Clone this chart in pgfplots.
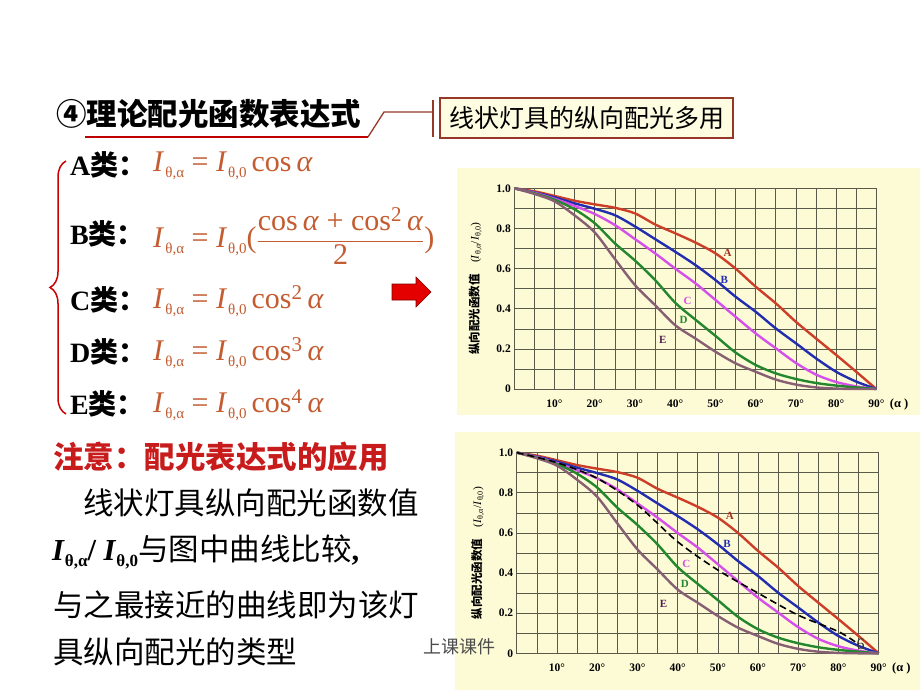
\documentclass[border=0pt]{standalone}
\usepackage{fontspec}
\setmainfont{Liberation Serif}
\newfontfamily\cjk{Noto Sans CJK SC}
\usepackage{pgfplots}
\usepackage{pgfplotstable}
\pgfplotsset{compat=1.18}
\usetikzlibrary{decorations.pathreplacing,calc}

\definecolor{chartbg}{RGB}{253,251,214}
\definecolor{gridc}{RGB}{90,90,75}
\definecolor{cA}{RGB}{205,62,40}
\definecolor{cB}{RGB}{35,45,175}
\definecolor{cC}{RGB}{212,80,232}
\definecolor{cD}{RGB}{35,135,45}
\definecolor{cE}{RGB}{135,95,115}
\definecolor{lA}{RGB}{165,45,30}
\definecolor{lE}{RGB}{85,30,80}
\definecolor{fc}{RGB}{195,92,48}
\definecolor{linkc}{RGB}{150,55,40}
\definecolor{boxf}{RGB}{255,253,225}
\definecolor{warn}{RGB}{200,28,28}

\newcommand{\fs}[1]{\fontsize{#1}{#1}\selectfont}
\newcommand{\Isub}[1]{\textit{I}\kern1pt\raisebox{-0.45ex}{\fs{15}#1}}

% angle in degrees, relative luminous intensity I(theta,alpha)/I(theta,0)
\pgfplotstableread{
deg A     B     C     D     E
0   1.000 1.000 1.000 1.000 1.000
5   0.985 0.980 0.978 0.975 0.972
10  0.962 0.955 0.948 0.943 0.935
15  0.938 0.925 0.912 0.895 0.865
20  0.920 0.898 0.872 0.826 0.780
25  0.903 0.866 0.817 0.726 0.648
30  0.875 0.810 0.747 0.640 0.518
35  0.820 0.747 0.676 0.543 0.418
40  0.776 0.684 0.600 0.430 0.318
45  0.730 0.618 0.527 0.346 0.252
50  0.676 0.543 0.444 0.265 0.186
55  0.600 0.460 0.360 0.182 0.128
60  0.510 0.385 0.277 0.120 0.086
65  0.427 0.302 0.203 0.078 0.047
70  0.335 0.228 0.130 0.050 0.022
75  0.252 0.153 0.072 0.030 0.008
80  0.170 0.086 0.035 0.017 0.002
85  0.086 0.037 0.013 0.008 0.000
90  0.000 0.000 0.000 0.000 0.000
}\curves

% measured lamp (dashed curve, lower chart)
\pgfplotstableread{
deg val
0   1.000
10  0.950
20  0.872
30  0.739
40  0.556
50  0.415
60  0.300
70  0.190
80  0.108
85  0.045
}\measured

\pgfplotsset{
  lamp/.style={
    scale only axis, width=362pt, height=200.7pt,
    xmin=0, xmax=90, ymin=0, ymax=1,
    xtick={0,10,...,90},
    xticklabels={,10°,20°,30°,40°,50°,60°,70°,80°,90°},
    minor x tick num=1,
    ytick={0,0.2,0.4,0.6,0.8,1},
    yticklabels={0,0.2,0.4,0.6,0.8,1.0},
    minor y tick num=1,
    grid=both,
    major grid style={draw=gridc,line width=0.55pt},
    minor grid style={draw=gridc,line width=0.55pt},
    axis line style={draw=gridc,line width=0.7pt},
    major tick length=0pt, minor tick length=0pt,
    tick label style={font={\fs{11.5}\bfseries}},
    xticklabel style={yshift=-7pt},
    clip=false,
    every axis plot/.append style={line width=2.4pt, smooth, no markers},
  },
}
\tikzset{curvelabel/.style={font={\fs{11}\bfseries}}}

\begin{document}
\begin{tikzpicture}[x=1pt,y=1pt]
\useasboundingbox (0,0) rectangle (920,-690);
\fill[white] (0,0) rectangle (920,-690);

% chart backgrounds
\fill[chartbg] (457,-168) rectangle (920,-415);
\fill[chartbg] (455,-432) rectangle (920,-690);

% title and link to the note box
\node[anchor=west, inner sep=0, font={\cjk\bfseries\fs{30.5}}] at (56,-114) {④理论配光函数表达式};
\draw[red!75!black, line width=2pt] (85,-137) -- (368,-137);
\draw[linkc, line width=1.3pt] (368,-137) -- (384,-112) -- (433,-112);
\draw[linkc, line width=1.6pt] (433,-100) -- (433,-137);
\node[draw=linkc, line width=1.5pt, fill=boxf, inner sep=0, minimum width=293pt, minimum height=40pt,
      font={\cjk\fs{25}}] at (586.5,-118) {线状灯具的纵向配光多用};

% brace and the five types
\draw[red!80!black, line width=1.5pt, decorate, decoration={brace, amplitude=16pt}] (66,-414) -- (66,-161);
\foreach \lab/\yy in {A/165, B/234, C/300, D/352, E/404} {
  \node[anchor=west, inner sep=0] at (70,-\yy) {\fs{28}\textbf{\lab}{\cjk\bfseries 类：}};
}
\begin{scope}[every node/.style={anchor=west, inner sep=0, text=fc, font=\fs{30}}]
\node at (153,-166) {\Isub{θ,α} = \Isub{θ,0}\,cos\,\textit{α}};
\node at (153,-236) {\Isub{θ,α} = \Isub{θ,0}($\displaystyle\frac{\mbox{cos\,\textit{α} + cos\textsuperscript{2}\,\textit{α}}}{\mbox{2}}$)};
\node at (153,-301) {\Isub{θ,α} = \Isub{θ,0}\,cos\textsuperscript{2}\,\textit{α}};
\node at (153,-353) {\Isub{θ,α} = \Isub{θ,0}\,cos\textsuperscript{3}\,\textit{α}};
\node at (153,-405) {\Isub{θ,α} = \Isub{θ,0}\,cos\textsuperscript{4}\,\textit{α}};
\end{scope}

% red arrow
\fill[red!90!black, draw=red!50!black, line width=0.6pt]
  (392,-284) -- (416,-284) -- (416,-277) -- (431,-292) -- (416,-307) -- (416,-300) -- (392,-300) -- cycle;

% note text
\node[anchor=west, inner sep=0, text=warn, font={\cjk\bfseries\fs{30.5}}] at (53,-457) {注意：配光表达式的应用};
\node[anchor=west, inner sep=0, font={\cjk\fs{30.5}}] at (83,-503) {线状灯具纵向配光函数值};
\node[anchor=west, inner sep=0, font=\fs{30.5}] at (52,-552)
  {\textbf{\textit{I}\raisebox{-0.45ex}{\fs{17}θ,α}/ \textit{I}\raisebox{-0.45ex}{\fs{17}θ,0}}{\cjk 与图中曲线比较}\textbf{,}};
\node[anchor=west, inner sep=0, font={\cjk\fs{30.5}}] at (53,-605) {与之最接近的曲线即为该灯};
\node[anchor=west, inner sep=0, font={\cjk\fs{30.5}}] at (53,-652) {具纵向配光的类型};
\node[anchor=west, inner sep=0, text=black!70, font={\cjk\fs{18}}] at (423,-647) {上课课件};

% upper chart
\begin{axis}[lamp, at={(514.3pt,-389pt)}, anchor=south west]
\addplot[cA] table[x=deg,y=A]{\curves};
\addplot[cB] table[x=deg,y=B]{\curves};
\addplot[cC] table[x=deg,y=C]{\curves};
\addplot[cD] table[x=deg,y=D]{\curves};
\addplot[cE] table[x=deg,y=E]{\curves};
\node[curvelabel, text=lA] at (axis cs:53,0.68) {A};
\node[curvelabel, text=cB] at (axis cs:52.2,0.543) {B};
\node[curvelabel, text=cC] at (axis cs:43.1,0.44) {C};
\node[curvelabel, text=cD] at (axis cs:42.1,0.342) {D};
\node[curvelabel, text=lE] at (axis cs:36.9,0.244) {E};
\node[rotate=90, font=\fs{11.5}] at ($(rel axis cs:0,0.5)+(-39pt,0)$)
  {{\cjk\bfseries 纵向配光函数值}\quad(\textit{I}\textsubscript{θ,α}/\textit{I}\textsubscript{θ,0})};
\node[anchor=west, font={\fs{12.5}\bfseries}] at ($(axis cs:90,0)+(10pt,-15pt)$) {(α )};
\end{axis}

% lower chart
\begin{axis}[lamp, at={(516.7pt,-653.3pt)}, anchor=south west]
\addplot[cA] table[x=deg,y=A]{\curves};
\addplot[cB] table[x=deg,y=B]{\curves};
\addplot[cC] table[x=deg,y=C]{\curves};
\addplot[cD] table[x=deg,y=D]{\curves};
\addplot[cE] table[x=deg,y=E]{\curves};
\addplot[black, line width=1.6pt, dash pattern=on 7pt off 4pt] table[x=deg,y=val]{\measured};
\addplot[only marks, mark=o, mark size=4.5pt, draw=cB!80!black, line width=1pt, sharp plot] coordinates {(85,0.04)};
\node[curvelabel, text=lA] at (axis cs:53,0.684) {A};
\node[curvelabel, text=cB] at (axis cs:52.3,0.547) {B};
\node[curvelabel, text=cC] at (axis cs:42.2,0.445) {C};
\node[curvelabel, text=cD] at (axis cs:41.8,0.345) {D};
\node[curvelabel, text=lE] at (axis cs:36.5,0.245) {E};
\node[rotate=90, font=\fs{11.5}] at ($(rel axis cs:0,0.5)+(-39pt,0)$)
  {{\cjk\bfseries 纵向配光函数值}\quad(\textit{I}\textsubscript{θ,α}/\textit{I}\textsubscript{θ,0})};
\node[anchor=west, font={\fs{12.5}\bfseries}] at ($(axis cs:90,0)+(10pt,-15pt)$) {(α )};
\node[font=\fs{16}, text=black!80] at (axis cs:85.5,0.045) {6};
\end{axis}
\end{tikzpicture}
\end{document}
